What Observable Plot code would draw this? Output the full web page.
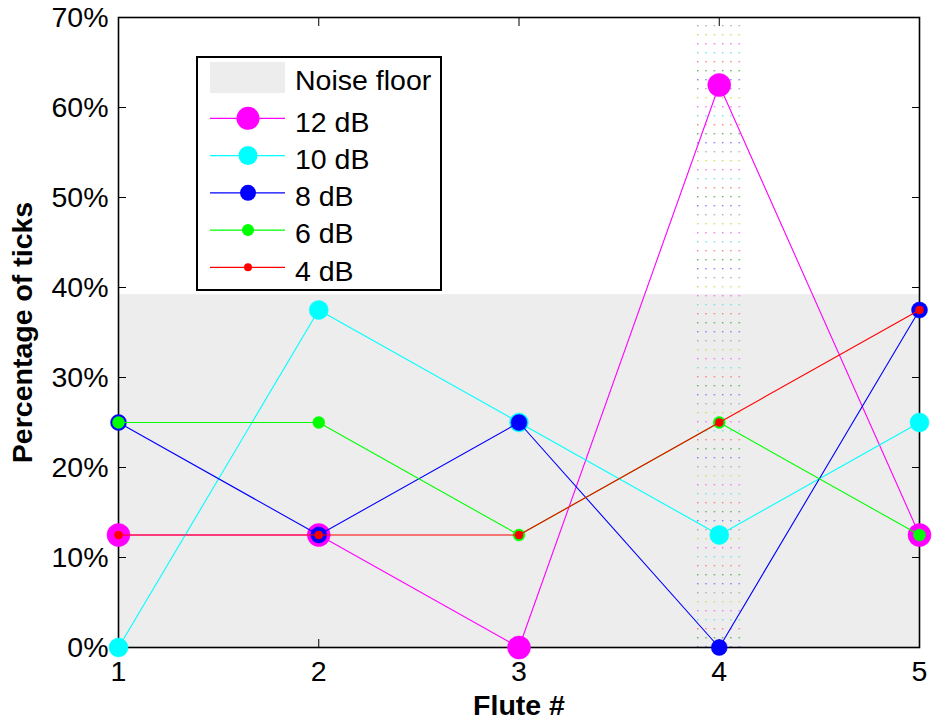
<!DOCTYPE html>
<html><head><meta charset="utf-8">
<script src="https://cdn.jsdelivr.net/npm/d3@7"></script>
<script src="https://cdn.jsdelivr.net/npm/@observablehq/plot@0.6"></script>
<style>
body{margin:0;background:#fff;}
#wrap{position:relative;width:932px;height:721px;font-family:"Liberation Sans",Arial,sans-serif;}
#legend{position:absolute;left:196px;top:56px;width:242px;height:231px;border:2px solid #000;background:#fff;}
</style></head><body><div id="wrap"></div>
<script>
// ---- data ----
const flutes = [1, 2, 3, 4, 5];
const seriesNames = ["12 dB", "10 dB", "8 dB", "6 dB", "4 dB"];
const pct12 = [12.5, 12.5, 0, 62.5, 12.5];
const pct10 = [0, 37.5, 25, 12.5, 25];
const pct8  = [25, 12.5, 25, 0, 37.5];
const pct6  = [25, 25, 12.5, 25, 12.5];
const pct4  = [12.5, 12.5, 12.5, 25, 37.5];
const seriesValues = [pct12, pct10, pct8, pct6, pct4];
const noiseFloor = 39.2;
const noiseLabel = "Noise floor";
const hatchRange = [3.89, 4.11];
const yTicks = [0, 10, 20, 30, 40, 50, 60, 70];
const xTicks = [1, 2, 3, 4, 5];

// ---- styles ----
const colors = ["#ff00ff", "#00ffff", "#0000ff", "#00ff00", "#ff0000"];
const radii = [11.5, 9.5, 8, 6, 4];
const FS = 28.5;

const marks = [];
marks.push(Plot.rect([{x1: flutes[0], x2: flutes[flutes.length - 1], y1: 0, y2: noiseFloor}],
  {x1: "x1", x2: "x2", y1: "y1", y2: "y2", fill: "#ededed"}));
marks.push(Plot.rect([{x1: hatchRange[0], x2: hatchRange[1], y1: yTicks[0], y2: yTicks[yTicks.length - 1]}],
  {x1: "x1", x2: "x2", y1: "y1", y2: "y2", fill: "url(#hatch)"}));
marks.push(Plot.frame({stroke: "#000", strokeWidth: 1.6}));
marks.push(Plot.axisY(yTicks, {anchor: "left", tickSize: 0, tickPadding: 10, tickFormat: d => d + "%", fontSize: FS,
  label: "Percentage of ticks", labelAnchor: "center", labelOffset: 107, labelArrow: "none"}));
marks.push(Plot.axisY(yTicks, {anchor: "left", tickSize: -8, tickFormat: () => "", label: null}));
marks.push(Plot.axisY(yTicks, {anchor: "right", tickSize: -8, tickFormat: () => "", label: null}));
marks.push(Plot.axisX(xTicks, {anchor: "bottom", tickSize: 0, tickPadding: 13, fontSize: FS, tickFormat: d => String(d),
  label: "Flute #", labelAnchor: "center", labelOffset: 67, labelArrow: "none"}));
marks.push(Plot.axisX(xTicks, {anchor: "bottom", tickSize: -8, tickFormat: () => "", label: null}));
marks.push(Plot.axisX(xTicks, {anchor: "top", tickSize: -8, tickFormat: () => "", label: null}));

seriesNames.forEach((name, i) => {
  const rows = flutes.map((f, j) => ({flute: f, pct: seriesValues[i][j]}));
  marks.push(Plot.line(rows, {x: "flute", y: "pct", stroke: colors[i], strokeWidth: 1.1}));
  marks.push(Plot.dot(rows, {x: "flute", y: "pct", r: radii[i], fill: colors[i], stroke: colors[i], strokeWidth: 0.5}));
});

const plot = Plot.plot({
  width: 932, height: 721,
  marginLeft: 118, marginRight: 13, marginTop: 17, marginBottom: 74,
  style: {fontFamily: '"Liberation Sans", Arial, sans-serif', fontSize: FS + "px", color: "#000", background: "#fff"},
  x: {domain: [flutes[0], flutes[flutes.length - 1]]},
  y: {domain: [yTicks[0], yTicks[yTicks.length - 1]]},
  marks
});

const wrap = document.getElementById("wrap");
wrap.appendChild(plot);

// bold axis labels
d3.select(plot).selectAll('[aria-label="x-axis label"] text, [aria-label="y-axis label"] text').attr("font-weight", "bold");

// hatch pattern
const xs = plot.scale("x"), ys = plot.scale("y");
const hatchColors = ["#7777ff", "#aaaaaa", "#d6d655", "#f070f0", "#66e0e0", "#ff7777", "#55b055"];
const defs = d3.select(plot).insert("defs", ":first-child");
const pat = defs.append("pattern").attr("id", "hatch").attr("patternUnits", "userSpaceOnUse")
  .attr("x", xs.apply(hatchRange[0]) + 0.3).attr("y", ys.apply(yTicks[yTicks.length - 1]) - 1)
  .attr("width", 8.3).attr("height", 63);
hatchColors.forEach((c, i) => {
  pat.append("rect").attr("x", 0).attr("y", i * 9).attr("width", 1.4).attr("height", 1.4).attr("fill", c);
});

// legend
const leg = d3.select(wrap).append("div").attr("id", "legend");
const lsvg = leg.append("svg").attr("width", 242).attr("height", 231)
  .style("font-family", '"Liberation Sans", Arial, sans-serif').style("font-size", FS + "px");
lsvg.append("rect").attr("x", 12).attr("y", 4).attr("width", 75).attr("height", 31).attr("fill", "#ededed");
lsvg.append("text").attr("x", 97).attr("y", 32).text(noiseLabel);
seriesNames.forEach((name, i) => {
  const cy = 60.3 + 37.25 * i;
  lsvg.append("line").attr("x1", 12).attr("x2", 87).attr("y1", cy).attr("y2", cy).attr("stroke", colors[i]).attr("stroke-width", 1.2);
  lsvg.append("circle").attr("cx", 50).attr("cy", cy).attr("r", radii[i]).attr("fill", colors[i]);
  lsvg.append("text").attr("x", 97).attr("y", cy + 13.4).text(name);
});
</script></body></html>
